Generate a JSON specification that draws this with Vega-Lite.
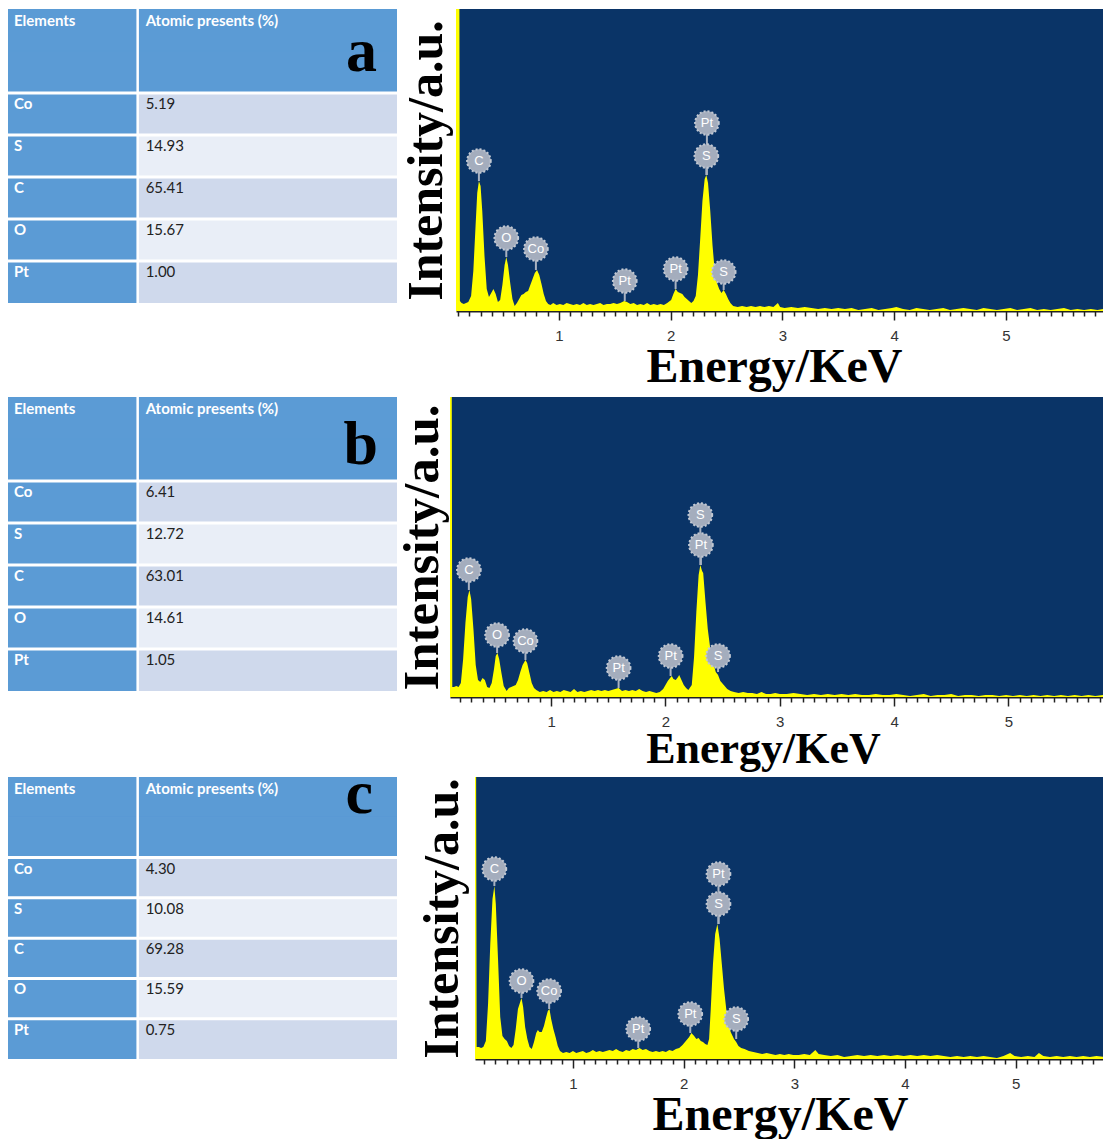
{
"$schema": "https://vega.github.io/schema/vega-lite/v6.json",
"background": "white",
"padding": {"left": 8, "top": 9, "right": 0, "bottom": 0},
"config": {"view": {"stroke": null}},
"datasets": {
"atomic": [
{"panel":"a","element":"Co","value":5.19},{"panel":"a","element":"S","value":14.93},{"panel":"a","element":"C","value":65.41},{"panel":"a","element":"O","value":15.67},{"panel":"a","element":"Pt","value":1.00},
{"panel":"b","element":"Co","value":6.41},{"panel":"b","element":"S","value":12.72},{"panel":"b","element":"C","value":63.01},{"panel":"b","element":"O","value":14.61},{"panel":"b","element":"Pt","value":1.05},
{"panel":"c","element":"Co","value":4.30},{"panel":"c","element":"S","value":10.08},{"panel":"c","element":"C","value":69.28},{"panel":"c","element":"O","value":15.59},{"panel":"c","element":"Pt","value":0.75}
],
"peaks": [
{"panel":"a","t":"C","e":0.285,"peak":130,"ly":150},{"panel":"a","t":"O","e":0.53,"peak":54,"ly":73},{"panel":"a","t":"Co","e":0.795,"peak":41,"ly":62},{"panel":"a","t":"Pt","e":1.59,"peak":10,"ly":30},{"panel":"a","t":"Pt","e":2.045,"peak":22,"ly":42},{"panel":"a","t":"S","e":2.32,"peak":136,"ly":155},{"panel":"a","t":"Pt","e":2.325,"peak":136,"ly":188},{"panel":"a","t":"S","e":2.475,"peak":21,"ly":39},
{"panel":"b","t":"C","e":0.28,"peak":107,"ly":127},{"panel":"b","t":"O","e":0.527,"peak":44,"ly":62},{"panel":"b","t":"Co","e":0.775,"peak":37,"ly":56},{"panel":"b","t":"Pt","e":1.59,"peak":9,"ly":29},{"panel":"b","t":"Pt","e":2.045,"peak":21,"ly":41},{"panel":"b","t":"Pt","e":2.31,"peak":132,"ly":152},{"panel":"b","t":"S","e":2.305,"peak":132,"ly":182},{"panel":"b","t":"S","e":2.46,"peak":25,"ly":41},
{"panel":"c","t":"C","e":0.29,"peak":173,"ly":190},{"panel":"c","t":"O","e":0.535,"peak":61,"ly":78},{"panel":"c","t":"Co","e":0.785,"peak":50,"ly":68},{"panel":"c","t":"Pt","e":1.59,"peak":11,"ly":30},{"panel":"c","t":"Pt","e":2.06,"peak":26,"ly":45},{"panel":"c","t":"S","e":2.315,"peak":135,"ly":155},{"panel":"c","t":"Pt","e":2.315,"peak":135,"ly":185},{"panel":"c","t":"S","e":2.475,"peak":20,"ly":40}
],
"specA": [
{"e":0.08,"i":330},{"e":0.11,"i":330},{"e":0.115,"i":10},{"e":0.13,"i":8},{"e":0.15,"i":7},{"e":0.17,"i":8},{"e":0.19,"i":9},{"e":0.215,"i":15},{"e":0.235,"i":40},{"e":0.255,"i":85},{"e":0.27,"i":118},{"e":0.285,"i":130},{"e":0.30,"i":125},{"e":0.315,"i":100},{"e":0.335,"i":55},{"e":0.355,"i":22},{"e":0.375,"i":14},{"e":0.395,"i":18},{"e":0.415,"i":22},{"e":0.435,"i":17},{"e":0.455,"i":9},{"e":0.475,"i":11},{"e":0.495,"i":26},{"e":0.515,"i":46},{"e":0.53,"i":54},{"e":0.545,"i":46},{"e":0.565,"i":28},{"e":0.585,"i":12},{"e":0.605,"i":5},{"e":0.625,"i":8},{"e":0.645,"i":12},{"e":0.665,"i":16},{"e":0.685,"i":17},{"e":0.705,"i":19},{"e":0.725,"i":20},{"e":0.745,"i":26},{"e":0.765,"i":32},{"e":0.785,"i":38},{"e":0.805,"i":41},{"e":0.825,"i":36},{"e":0.845,"i":27},{"e":0.865,"i":17},{"e":0.885,"i":10},{"e":0.905,"i":7},{"e":0.925,"i":6},{"e":0.95,"i":8},{"e":0.98,"i":6},{"e":1.01,"i":7},{"e":1.04,"i":6},{"e":1.07,"i":8},{"e":1.10,"i":7},{"e":1.13,"i":6},{"e":1.16,"i":7},{"e":1.19,"i":6},{"e":1.22,"i":8},{"e":1.25,"i":6},{"e":1.28,"i":7},{"e":1.31,"i":6},{"e":1.34,"i":7},{"e":1.37,"i":8},{"e":1.40,"i":6},{"e":1.43,"i":7},{"e":1.46,"i":7},{"e":1.49,"i":8},{"e":1.52,"i":7},{"e":1.55,"i":8},{"e":1.585,"i":10},{"e":1.61,"i":9},{"e":1.64,"i":7},{"e":1.67,"i":8},{"e":1.70,"i":6},{"e":1.73,"i":7},{"e":1.76,"i":6},{"e":1.79,"i":8},{"e":1.82,"i":6},{"e":1.85,"i":7},{"e":1.88,"i":6},{"e":1.91,"i":7},{"e":1.94,"i":6},{"e":1.97,"i":8},{"e":2.005,"i":11},{"e":2.025,"i":17},{"e":2.045,"i":22},{"e":2.065,"i":19},{"e":2.085,"i":18},{"e":2.105,"i":17},{"e":2.125,"i":14},{"e":2.145,"i":12},{"e":2.165,"i":10},{"e":2.185,"i":8},{"e":2.205,"i":10},{"e":2.225,"i":15},{"e":2.245,"i":36},{"e":2.265,"i":72},{"e":2.285,"i":110},{"e":2.305,"i":132},{"e":2.32,"i":136},{"e":2.335,"i":128},{"e":2.355,"i":100},{"e":2.375,"i":66},{"e":2.395,"i":40},{"e":2.415,"i":28},{"e":2.435,"i":22},{"e":2.455,"i":18},{"e":2.475,"i":21},{"e":2.495,"i":17},{"e":2.515,"i":12},{"e":2.535,"i":8},{"e":2.56,"i":5},{"e":2.60,"i":4},{"e":2.64,"i":5},{"e":2.68,"i":4},{"e":2.72,"i":5},{"e":2.76,"i":4},{"e":2.80,"i":5},{"e":2.84,"i":4},{"e":2.88,"i":5},{"e":2.92,"i":4},{"e":2.96,"i":8},{"e":2.98,"i":4},{"e":3.02,"i":3},{"e":3.08,"i":4},{"e":3.14,"i":3},{"e":3.20,"i":4},{"e":3.26,"i":3},{"e":3.32,"i":2},{"e":3.38,"i":3},{"e":3.44,"i":2},{"e":3.50,"i":3},{"e":3.56,"i":2},{"e":3.62,"i":3},{"e":3.68,"i":1},{"e":3.74,"i":2},{"e":3.80,"i":3},{"e":3.86,"i":1},{"e":3.92,"i":2},{"e":3.98,"i":3},{"e":4.02,"i":4},{"e":4.08,"i":2},{"e":4.14,"i":1},{"e":4.20,"i":3},{"e":4.26,"i":2},{"e":4.32,"i":1},{"e":4.38,"i":2},{"e":4.44,"i":3},{"e":4.50,"i":1},{"e":4.56,"i":2},{"e":4.62,"i":3},{"e":4.68,"i":2},{"e":4.74,"i":1},{"e":4.80,"i":3},{"e":4.86,"i":2},{"e":4.92,"i":1},{"e":4.98,"i":2},{"e":5.04,"i":3},{"e":5.10,"i":1},{"e":5.16,"i":2},{"e":5.22,"i":3},{"e":5.28,"i":1},{"e":5.34,"i":2},{"e":5.40,"i":1},{"e":5.46,"i":2},{"e":5.52,"i":3},{"e":5.58,"i":1},{"e":5.64,"i":2},{"e":5.70,"i":1},{"e":5.76,"i":2},{"e":5.82,"i":1},{"e":5.87,"i":2}
],
"specB": [
{"e":0.115,"i":330},{"e":0.13,"i":330},{"e":0.135,"i":10},{"e":0.15,"i":10},{"e":0.17,"i":11},{"e":0.19,"i":10},{"e":0.21,"i":14},{"e":0.23,"i":38},{"e":0.25,"i":74},{"e":0.27,"i":100},{"e":0.285,"i":107},{"e":0.30,"i":98},{"e":0.32,"i":68},{"e":0.34,"i":32},{"e":0.36,"i":17},{"e":0.38,"i":15},{"e":0.40,"i":19},{"e":0.42,"i":17},{"e":0.44,"i":10},{"e":0.46,"i":9},{"e":0.48,"i":14},{"e":0.50,"i":28},{"e":0.515,"i":41},{"e":0.53,"i":44},{"e":0.545,"i":38},{"e":0.565,"i":24},{"e":0.585,"i":11},{"e":0.61,"i":6},{"e":0.63,"i":9},{"e":0.65,"i":10},{"e":0.67,"i":11},{"e":0.69,"i":12},{"e":0.71,"i":17},{"e":0.73,"i":25},{"e":0.75,"i":32},{"e":0.775,"i":37},{"e":0.79,"i":34},{"e":0.81,"i":24},{"e":0.83,"i":14},{"e":0.85,"i":9},{"e":0.87,"i":7},{"e":0.90,"i":5},{"e":0.93,"i":6},{"e":0.96,"i":5},{"e":0.99,"i":7},{"e":1.02,"i":5},{"e":1.05,"i":6},{"e":1.08,"i":5},{"e":1.11,"i":7},{"e":1.14,"i":6},{"e":1.17,"i":5},{"e":1.20,"i":8},{"e":1.23,"i":5},{"e":1.26,"i":6},{"e":1.29,"i":5},{"e":1.32,"i":6},{"e":1.35,"i":7},{"e":1.38,"i":6},{"e":1.41,"i":7},{"e":1.44,"i":6},{"e":1.47,"i":7},{"e":1.50,"i":6},{"e":1.53,"i":7},{"e":1.56,"i":8},{"e":1.59,"i":9},{"e":1.62,"i":6},{"e":1.65,"i":7},{"e":1.68,"i":6},{"e":1.71,"i":7},{"e":1.74,"i":6},{"e":1.77,"i":8},{"e":1.80,"i":6},{"e":1.83,"i":5},{"e":1.86,"i":6},{"e":1.89,"i":5},{"e":1.92,"i":4},{"e":1.95,"i":5},{"e":1.98,"i":8},{"e":2.00,"i":12},{"e":2.02,"i":16},{"e":2.04,"i":19},{"e":2.055,"i":21},{"e":2.07,"i":18},{"e":2.09,"i":17},{"e":2.11,"i":20},{"e":2.12,"i":22},{"e":2.14,"i":17},{"e":2.16,"i":12},{"e":2.18,"i":9},{"e":2.20,"i":7},{"e":2.23,"i":12},{"e":2.25,"i":40},{"e":2.27,"i":85},{"e":2.29,"i":122},{"e":2.305,"i":132},{"e":2.32,"i":126},{"e":2.33,"i":124},{"e":2.35,"i":95},{"e":2.37,"i":68},{"e":2.39,"i":50},{"e":2.41,"i":37},{"e":2.44,"i":25},{"e":2.46,"i":22},{"e":2.48,"i":16},{"e":2.51,"i":12},{"e":2.54,"i":8},{"e":2.57,"i":6},{"e":2.60,"i":5},{"e":2.64,"i":4},{"e":2.68,"i":5},{"e":2.72,"i":4},{"e":2.76,"i":4},{"e":2.80,"i":3},{"e":2.84,"i":5},{"e":2.88,"i":3},{"e":2.92,"i":3},{"e":2.96,"i":4},{"e":3.00,"i":3},{"e":3.06,"i":3},{"e":3.12,"i":4},{"e":3.18,"i":3},{"e":3.24,"i":2},{"e":3.30,"i":3},{"e":3.36,"i":2},{"e":3.42,"i":3},{"e":3.48,"i":2},{"e":3.54,"i":3},{"e":3.60,"i":2},{"e":3.66,"i":3},{"e":3.72,"i":2},{"e":3.78,"i":2},{"e":3.84,"i":3},{"e":3.90,"i":2},{"e":3.96,"i":2},{"e":4.02,"i":3},{"e":4.08,"i":2},{"e":4.14,"i":1},{"e":4.20,"i":2},{"e":4.26,"i":3},{"e":4.32,"i":1},{"e":4.38,"i":2},{"e":4.44,"i":2},{"e":4.50,"i":3},{"e":4.56,"i":1},{"e":4.62,"i":2},{"e":4.68,"i":2},{"e":4.74,"i":1},{"e":4.80,"i":2},{"e":4.86,"i":2},{"e":4.92,"i":1},{"e":4.98,"i":2},{"e":5.04,"i":1},{"e":5.10,"i":2},{"e":5.16,"i":1},{"e":5.22,"i":2},{"e":5.28,"i":1},{"e":5.34,"i":2},{"e":5.40,"i":1},{"e":5.46,"i":2},{"e":5.52,"i":1},{"e":5.58,"i":2},{"e":5.64,"i":1},{"e":5.70,"i":2},{"e":5.76,"i":1},{"e":5.83,"i":2}
],
"specC": [
{"e":0.115,"i":300},{"e":0.125,"i":300},{"e":0.13,"i":12},{"e":0.15,"i":12},{"e":0.17,"i":11},{"e":0.19,"i":12},{"e":0.213,"i":18},{"e":0.233,"i":55},{"e":0.253,"i":115},{"e":0.273,"i":160},{"e":0.29,"i":173},{"e":0.303,"i":155},{"e":0.323,"i":100},{"e":0.343,"i":42},{"e":0.363,"i":23},{"e":0.383,"i":20},{"e":0.403,"i":18},{"e":0.423,"i":13},{"e":0.443,"i":11},{"e":0.463,"i":14},{"e":0.483,"i":30},{"e":0.503,"i":50},{"e":0.535,"i":61},{"e":0.55,"i":52},{"e":0.568,"i":32},{"e":0.588,"i":20},{"e":0.608,"i":12},{"e":0.628,"i":10},{"e":0.648,"i":17},{"e":0.668,"i":26},{"e":0.683,"i":29},{"e":0.698,"i":27},{"e":0.718,"i":27},{"e":0.738,"i":33},{"e":0.758,"i":42},{"e":0.773,"i":48},{"e":0.788,"i":50},{"e":0.803,"i":40},{"e":0.823,"i":30},{"e":0.843,"i":22},{"e":0.863,"i":13},{"e":0.883,"i":8},{"e":0.91,"i":6},{"e":0.94,"i":7},{"e":0.97,"i":6},{"e":1.00,"i":8},{"e":1.03,"i":6},{"e":1.06,"i":7},{"e":1.09,"i":8},{"e":1.12,"i":6},{"e":1.15,"i":7},{"e":1.18,"i":9},{"e":1.21,"i":7},{"e":1.24,"i":8},{"e":1.27,"i":7},{"e":1.30,"i":8},{"e":1.33,"i":9},{"e":1.36,"i":8},{"e":1.39,"i":10},{"e":1.42,"i":8},{"e":1.45,"i":7},{"e":1.48,"i":9},{"e":1.51,"i":8},{"e":1.54,"i":10},{"e":1.57,"i":9},{"e":1.60,"i":11},{"e":1.63,"i":9},{"e":1.66,"i":10},{"e":1.69,"i":8},{"e":1.72,"i":7},{"e":1.75,"i":8},{"e":1.78,"i":7},{"e":1.81,"i":8},{"e":1.84,"i":7},{"e":1.87,"i":9},{"e":1.90,"i":8},{"e":1.93,"i":10},{"e":1.96,"i":11},{"e":1.99,"i":14},{"e":2.02,"i":18},{"e":2.05,"i":22},{"e":2.07,"i":26},{"e":2.095,"i":23},{"e":2.115,"i":20},{"e":2.135,"i":21},{"e":2.155,"i":18},{"e":2.175,"i":17},{"e":2.195,"i":15},{"e":2.215,"i":14},{"e":2.23,"i":20},{"e":2.245,"i":50},{"e":2.265,"i":95},{"e":2.285,"i":125},{"e":2.305,"i":135},{"e":2.325,"i":120},{"e":2.345,"i":95},{"e":2.365,"i":70},{"e":2.385,"i":50},{"e":2.405,"i":36},{"e":2.425,"i":27},{"e":2.455,"i":20},{"e":2.475,"i":17},{"e":2.495,"i":13},{"e":2.52,"i":11},{"e":2.55,"i":10},{"e":2.59,"i":8},{"e":2.63,"i":7},{"e":2.67,"i":6},{"e":2.71,"i":5},{"e":2.75,"i":6},{"e":2.79,"i":5},{"e":2.83,"i":4},{"e":2.87,"i":5},{"e":2.91,"i":4},{"e":2.95,"i":5},{"e":2.99,"i":4},{"e":3.04,"i":4},{"e":3.09,"i":5},{"e":3.14,"i":4},{"e":3.19,"i":9},{"e":3.22,"i":5},{"e":3.27,"i":4},{"e":3.33,"i":3},{"e":3.39,"i":4},{"e":3.45,"i":2},{"e":3.51,"i":3},{"e":3.57,"i":4},{"e":3.63,"i":3},{"e":3.69,"i":4},{"e":3.75,"i":3},{"e":3.81,"i":4},{"e":3.87,"i":3},{"e":3.93,"i":4},{"e":3.99,"i":3},{"e":4.05,"i":4},{"e":4.11,"i":3},{"e":4.17,"i":4},{"e":4.23,"i":3},{"e":4.29,"i":4},{"e":4.35,"i":3},{"e":4.41,"i":2},{"e":4.47,"i":3},{"e":4.53,"i":2},{"e":4.59,"i":3},{"e":4.65,"i":2},{"e":4.71,"i":3},{"e":4.77,"i":2},{"e":4.83,"i":1},{"e":4.89,"i":3},{"e":4.95,"i":6},{"e":4.99,"i":3},{"e":5.05,"i":2},{"e":5.11,"i":3},{"e":5.17,"i":2},{"e":5.21,"i":6},{"e":5.25,"i":3},{"e":5.31,"i":2},{"e":5.37,"i":3},{"e":5.43,"i":2},{"e":5.49,"i":3},{"e":5.55,"i":2},{"e":5.61,"i":3},{"e":5.67,"i":2},{"e":5.73,"i":3},{"e":5.80,"i":2}
]
},
"spacing": 6,
"vconcat": [
{"spacing": 3, "hconcat": [
{"width": 389, "height": 294, "data": {"name": "atomic"}, "transform": [{"filter": "datum.panel === 'a'"}],
"layer": [
{"transform": [{"filter": "datum.element === 'Co'"}], "mark": {"type": "rect", "color": "#5b9bd5", "stroke": "#5b9bd5", "strokeWidth": 1, "clip": true}, "encoding": {"x": {"value": 0}, "x2": {"value": "width"}, "y": {"datum": "h1", "type": "nominal", "scale": {"type": "band", "domain": ["h1","h2","Co","S","C","O","Pt"], "paddingInner": 0, "paddingOuter": 0}, "axis": null}}},
{"transform": [{"filter": "datum.element === 'Co'"}], "mark": {"type": "rect", "color": "#5b9bd5", "stroke": "#5b9bd5", "strokeWidth": 1, "clip": true}, "encoding": {"x": {"value": 0}, "x2": {"value": "width"}, "y": {"datum": "h2", "type": "nominal"}}},
{"mark": {"type": "rect"}, "encoding": {"x": {"value": 0}, "x2": {"value": "width"}, "y": {"field": "element", "type": "nominal"}, "color": {"field": "element", "type": "nominal", "scale": {"domain": ["Co","S","C","O","Pt"], "range": ["#cfd9ec","#e9eef7","#cfd9ec","#e9eef7","#cfd9ec"]}, "legend": null}}},
{"mark": {"type": "rect", "color": "#5b9bd5"}, "encoding": {"y": {"field": "element", "type": "nominal"}, "x": {"datum": "c1", "type": "nominal", "scale": {"type": "band", "domain": ["c1","c2","c3"], "paddingInner": 0, "paddingOuter": 0}, "axis": null}}},
{"mark": {"type": "rule", "color": "white", "strokeWidth": 3, "clip": true}, "encoding": {"y": {"field": "element", "type": "nominal", "bandPosition": 0}}},
{"transform": [{"filter": "datum.element === 'Co'"}], "mark": {"type": "rule", "color": "white", "strokeWidth": 2.5, "clip": true}, "encoding": {"x": {"datum": "c2", "type": "nominal", "bandPosition": 0}}},
{"transform": [{"filter": "datum.element === 'Co'"}], "mark": {"type": "text", "text": "Elements", "font": "Lato", "fontWeight": "bold", "fontSize": 15, "color": "white", "align": "left", "baseline": "alphabetic", "dx": 6, "dy": 17}, "encoding": {"x": {"datum": "c1", "type": "nominal", "bandPosition": 0}, "y": {"datum": "h1", "type": "nominal", "bandPosition": 0}}},
{"transform": [{"filter": "datum.element === 'Co'"}], "mark": {"type": "text", "text": "Atomic presents (%)", "font": "Lato", "fontWeight": "bold", "fontSize": 15, "color": "white", "align": "left", "baseline": "alphabetic", "dx": 8, "dy": 17}, "encoding": {"x": {"datum": "c2", "type": "nominal", "bandPosition": 0}, "y": {"datum": "h1", "type": "nominal", "bandPosition": 0}}},
{"transform": [{"filter": "datum.element === 'Co'"}], "mark": {"type": "text", "text": "a", "font": "Liberation Serif", "fontWeight": "bold", "fontSize": 62, "color": "black", "align": "right", "baseline": "alphabetic", "dx": -20, "dy": -22, "clip": true}, "encoding": {"x": {"datum": "c3", "type": "nominal", "bandPosition": 1}, "y": {"datum": "h2", "type": "nominal", "bandPosition": 1}}},
{"mark": {"type": "text", "font": "Lato", "fontWeight": "bold", "fontSize": 15, "color": "white", "align": "left", "baseline": "alphabetic", "dx": 6, "dy": 16}, "encoding": {"text": {"field": "element"}, "x": {"datum": "c1", "type": "nominal", "bandPosition": 0}, "y": {"field": "element", "type": "nominal", "bandPosition": 0}}},
{"mark": {"type": "text", "font": "Lato", "fontSize": 15, "color": "#222", "align": "left", "baseline": "alphabetic", "dx": 8, "dy": 16}, "encoding": {"text": {"field": "value", "format": ".2f"}, "x": {"datum": "c2", "type": "nominal", "bandPosition": 0}, "y": {"field": "element", "type": "nominal", "bandPosition": 0}}}
]},
{"width": 648, "height": 302, "view": {"fill": "#0a3467", "stroke": null},
"layer": [
{"data": {"name": "specA"}, "mark": {"type": "area", "color": "#ffff00", "clip": true, "interpolate": "linear"},
"encoding": {"x": {"field": "e", "type": "quantitative", "scale": {"domain": [0.08, 5.878], "nice": false, "zero": false},
"axis": {"title": "Energy/KeV", "titleX": 318, "tickCount": 100, "values": [0.1,0.2,0.3,0.4,0.5,0.6,0.7,0.8,0.9,1,1.1,1.2,1.3,1.4,1.5,1.6,1.7,1.8,1.9,2,2.1,2.2,2.3,2.4,2.5,2.6,2.7,2.8,2.9,3,3.1,3.2,3.3,3.4,3.5,3.6,3.7,3.8,3.9,4,4.1,4.2,4.3,4.4,4.5,4.6,4.7,4.8,4.9,5,5.1,5.2,5.3,5.4,5.5,5.6,5.7,5.8], "grid": false, "labelExpr": "datum.value % 1 === 0 ? format(datum.value, 'd') : ''", "labelOverlap": false, "labelFlush": false, "labelFont": "Liberation Sans", "labelFontSize": 15, "labelColor": "#333", "labelPadding": 8, "tickSize": {"condition": {"test": "datum.value % 1 === 0", "value": 9}, "value": 5}, "tickColor": "#222", "tickWidth": 1.5, "domainColor": "#222", "domainWidth": 2, "titleFont": "Liberation Serif", "titleFontSize": 48, "titleFontWeight": "bold", "titleColor": "black", "titlePadding": 0}},
"y": {"field": "i", "type": "quantitative", "scale": {"domain": [0, 302], "nice": false}, "axis": {"title": "Intensity/a.u.", "labels": false, "ticks": false, "domain": false, "grid": false, "titleFont": "Liberation Serif", "titleFontSize": 50, "titleFontWeight": "bold", "titleColor": "black", "titlePadding": 5}}}},
{"data": {"name": "peaks"}, "transform": [{"filter": "datum.panel === 'a'"}], "mark": {"type": "rule", "color": "#a9b2c1", "strokeWidth": 2}, "encoding": {"x": {"field": "e", "type": "quantitative"}, "y": {"field": "peak", "type": "quantitative"}, "y2": {"field": "ly"}}},
{"data": {"name": "peaks"}, "transform": [{"filter": "datum.panel === 'a'"}], "mark": {"type": "point", "shape": "circle", "filled": true, "size": 560, "color": "#a4adbd", "opacity": 1, "stroke": "#c3c9d3", "strokeWidth": 2, "strokeDash": [2, 2]}, "encoding": {"x": {"field": "e", "type": "quantitative"}, "y": {"field": "ly", "type": "quantitative"}}},
{"data": {"name": "peaks"}, "transform": [{"filter": "datum.panel === 'a'"}], "mark": {"type": "text", "color": "white", "font": "Liberation Sans", "fontSize": 13, "baseline": "middle", "align": "center"}, "encoding": {"x": {"field": "e", "type": "quantitative"}, "y": {"field": "ly", "type": "quantitative"}, "text": {"field": "t"}}}
]}
]},
{"spacing": -2, "hconcat": [
{"width": 389, "height": 294, "data": {"name": "atomic"}, "transform": [{"filter": "datum.panel === 'b'"}],
"layer": [
{"transform": [{"filter": "datum.element === 'Co'"}], "mark": {"type": "rect", "color": "#5b9bd5", "stroke": "#5b9bd5", "strokeWidth": 1, "clip": true}, "encoding": {"x": {"value": 0}, "x2": {"value": "width"}, "y": {"datum": "h1", "type": "nominal", "scale": {"type": "band", "domain": ["h1","h2","Co","S","C","O","Pt"], "paddingInner": 0, "paddingOuter": 0}, "axis": null}}},
{"transform": [{"filter": "datum.element === 'Co'"}], "mark": {"type": "rect", "color": "#5b9bd5", "stroke": "#5b9bd5", "strokeWidth": 1, "clip": true}, "encoding": {"x": {"value": 0}, "x2": {"value": "width"}, "y": {"datum": "h2", "type": "nominal"}}},
{"mark": {"type": "rect"}, "encoding": {"x": {"value": 0}, "x2": {"value": "width"}, "y": {"field": "element", "type": "nominal"}, "color": {"field": "element", "type": "nominal", "scale": {"domain": ["Co","S","C","O","Pt"], "range": ["#cfd9ec","#e9eef7","#cfd9ec","#e9eef7","#cfd9ec"]}, "legend": null}}},
{"mark": {"type": "rect", "color": "#5b9bd5"}, "encoding": {"y": {"field": "element", "type": "nominal"}, "x": {"datum": "c1", "type": "nominal", "scale": {"type": "band", "domain": ["c1","c2","c3"], "paddingInner": 0, "paddingOuter": 0}, "axis": null}}},
{"mark": {"type": "rule", "color": "white", "strokeWidth": 3, "clip": true}, "encoding": {"y": {"field": "element", "type": "nominal", "bandPosition": 0}}},
{"transform": [{"filter": "datum.element === 'Co'"}], "mark": {"type": "rule", "color": "white", "strokeWidth": 2.5, "clip": true}, "encoding": {"x": {"datum": "c2", "type": "nominal", "bandPosition": 0}}},
{"transform": [{"filter": "datum.element === 'Co'"}], "mark": {"type": "text", "text": "Elements", "font": "Lato", "fontWeight": "bold", "fontSize": 15, "color": "white", "align": "left", "baseline": "alphabetic", "dx": 6, "dy": 17}, "encoding": {"x": {"datum": "c1", "type": "nominal", "bandPosition": 0}, "y": {"datum": "h1", "type": "nominal", "bandPosition": 0}}},
{"transform": [{"filter": "datum.element === 'Co'"}], "mark": {"type": "text", "text": "Atomic presents (%)", "font": "Lato", "fontWeight": "bold", "fontSize": 15, "color": "white", "align": "left", "baseline": "alphabetic", "dx": 8, "dy": 17}, "encoding": {"x": {"datum": "c2", "type": "nominal", "bandPosition": 0}, "y": {"datum": "h1", "type": "nominal", "bandPosition": 0}}},
{"transform": [{"filter": "datum.element === 'Co'"}], "mark": {"type": "text", "text": "b", "font": "Liberation Serif", "fontWeight": "bold", "fontSize": 62, "color": "black", "align": "right", "baseline": "alphabetic", "dx": -19, "dy": -17, "clip": true}, "encoding": {"x": {"datum": "c3", "type": "nominal", "bandPosition": 1}, "y": {"datum": "h2", "type": "nominal", "bandPosition": 1}}},
{"mark": {"type": "text", "font": "Lato", "fontWeight": "bold", "fontSize": 15, "color": "white", "align": "left", "baseline": "alphabetic", "dx": 6, "dy": 16}, "encoding": {"text": {"field": "element"}, "x": {"datum": "c1", "type": "nominal", "bandPosition": 0}, "y": {"field": "element", "type": "nominal", "bandPosition": 0}}},
{"mark": {"type": "text", "font": "Lato", "fontSize": 15, "color": "#222", "align": "left", "baseline": "alphabetic", "dx": 8, "dy": 16}, "encoding": {"text": {"field": "value", "format": ".2f"}, "x": {"datum": "c2", "type": "nominal", "bandPosition": 0}, "y": {"field": "element", "type": "nominal", "bandPosition": 0}}}
]},
{"width": 653, "height": 300, "view": {"fill": "#0a3467", "stroke": null},
"layer": [
{"data": {"name": "specB"}, "mark": {"type": "area", "color": "#ffff00", "clip": true, "interpolate": "linear"},
"encoding": {"x": {"field": "e", "type": "quantitative", "scale": {"domain": [0.115, 5.8275], "nice": false, "zero": false},
"axis": {"title": "Energy/KeV", "titleX": 313, "tickCount": 100, "values": [0.2,0.3,0.4,0.5,0.6,0.7,0.8,0.9,1,1.1,1.2,1.3,1.4,1.5,1.6,1.7,1.8,1.9,2,2.1,2.2,2.3,2.4,2.5,2.6,2.7,2.8,2.9,3,3.1,3.2,3.3,3.4,3.5,3.6,3.7,3.8,3.9,4,4.1,4.2,4.3,4.4,4.5,4.6,4.7,4.8,4.9,5,5.1,5.2,5.3,5.4,5.5,5.6,5.7,5.8], "grid": false, "labelExpr": "datum.value % 1 === 0 ? format(datum.value, 'd') : ''", "labelOverlap": false, "labelFlush": false, "labelFont": "Liberation Sans", "labelFontSize": 15, "labelColor": "#333", "labelPadding": 8, "tickSize": {"condition": {"test": "datum.value % 1 === 0", "value": 9}, "value": 5}, "tickColor": "#222", "tickWidth": 1.5, "domainColor": "#222", "domainWidth": 2, "titleFont": "Liberation Serif", "titleFontSize": 44, "titleFontWeight": "bold", "titleColor": "black", "titlePadding": -2}},
"y": {"field": "i", "type": "quantitative", "scale": {"domain": [0, 300], "nice": false}, "axis": {"title": "Intensity/a.u.", "labels": false, "ticks": false, "domain": false, "grid": false, "titleFont": "Liberation Serif", "titleFontSize": 51, "titleFontWeight": "bold", "titleColor": "black", "titlePadding": 2}}}},
{"data": {"name": "peaks"}, "transform": [{"filter": "datum.panel === 'b'"}], "mark": {"type": "rule", "color": "#a9b2c1", "strokeWidth": 2}, "encoding": {"x": {"field": "e", "type": "quantitative"}, "y": {"field": "peak", "type": "quantitative"}, "y2": {"field": "ly"}}},
{"data": {"name": "peaks"}, "transform": [{"filter": "datum.panel === 'b'"}], "mark": {"type": "point", "shape": "circle", "filled": true, "size": 560, "color": "#a4adbd", "opacity": 1, "stroke": "#c3c9d3", "strokeWidth": 2, "strokeDash": [2, 2]}, "encoding": {"x": {"field": "e", "type": "quantitative"}, "y": {"field": "ly", "type": "quantitative"}}},
{"data": {"name": "peaks"}, "transform": [{"filter": "datum.panel === 'b'"}], "mark": {"type": "text", "color": "white", "font": "Liberation Sans", "fontSize": 13, "baseline": "middle", "align": "center"}, "encoding": {"x": {"field": "e", "type": "quantitative"}, "y": {"field": "ly", "type": "quantitative"}, "text": {"field": "t"}}}
]}
]},
{"spacing": 19, "hconcat": [
{"width": 389, "height": 282, "data": {"name": "atomic"}, "transform": [{"filter": "datum.panel === 'c'"}],
"layer": [
{"transform": [{"filter": "datum.element === 'Co'"}], "mark": {"type": "rect", "color": "#5b9bd5", "stroke": "#5b9bd5", "strokeWidth": 1, "clip": true}, "encoding": {"x": {"value": 0}, "x2": {"value": "width"}, "y": {"datum": "h1", "type": "nominal", "scale": {"type": "band", "domain": ["h1","h2","Co","S","C","O","Pt"], "paddingInner": 0, "paddingOuter": 0}, "axis": null}}},
{"transform": [{"filter": "datum.element === 'Co'"}], "mark": {"type": "rect", "color": "#5b9bd5", "stroke": "#5b9bd5", "strokeWidth": 1, "clip": true}, "encoding": {"x": {"value": 0}, "x2": {"value": "width"}, "y": {"datum": "h2", "type": "nominal"}}},
{"mark": {"type": "rect"}, "encoding": {"x": {"value": 0}, "x2": {"value": "width"}, "y": {"field": "element", "type": "nominal"}, "color": {"field": "element", "type": "nominal", "scale": {"domain": ["Co","S","C","O","Pt"], "range": ["#cfd9ec","#e9eef7","#cfd9ec","#e9eef7","#cfd9ec"]}, "legend": null}}},
{"mark": {"type": "rect", "color": "#5b9bd5"}, "encoding": {"y": {"field": "element", "type": "nominal"}, "x": {"datum": "c1", "type": "nominal", "scale": {"type": "band", "domain": ["c1","c2","c3"], "paddingInner": 0, "paddingOuter": 0}, "axis": null}}},
{"mark": {"type": "rule", "color": "white", "strokeWidth": 3, "clip": true}, "encoding": {"y": {"field": "element", "type": "nominal", "bandPosition": 0}}},
{"transform": [{"filter": "datum.element === 'Co'"}], "mark": {"type": "rule", "color": "white", "strokeWidth": 2.5, "clip": true}, "encoding": {"x": {"datum": "c2", "type": "nominal", "bandPosition": 0}}},
{"transform": [{"filter": "datum.element === 'Co'"}], "mark": {"type": "text", "text": "Elements", "font": "Lato", "fontWeight": "bold", "fontSize": 15, "color": "white", "align": "left", "baseline": "alphabetic", "dx": 6, "dy": 17}, "encoding": {"x": {"datum": "c1", "type": "nominal", "bandPosition": 0}, "y": {"datum": "h1", "type": "nominal", "bandPosition": 0}}},
{"transform": [{"filter": "datum.element === 'Co'"}], "mark": {"type": "text", "text": "Atomic presents (%)", "font": "Lato", "fontWeight": "bold", "fontSize": 15, "color": "white", "align": "left", "baseline": "alphabetic", "dx": 8, "dy": 17}, "encoding": {"x": {"datum": "c2", "type": "nominal", "bandPosition": 0}, "y": {"datum": "h1", "type": "nominal", "bandPosition": 0}}},
{"transform": [{"filter": "datum.element === 'Co'"}], "mark": {"type": "text", "text": "c", "font": "Liberation Serif", "fontWeight": "bold", "fontSize": 62, "color": "black", "align": "right", "baseline": "alphabetic", "dx": -24, "dy": -45, "clip": true}, "encoding": {"x": {"datum": "c3", "type": "nominal", "bandPosition": 1}, "y": {"datum": "h2", "type": "nominal", "bandPosition": 1}}},
{"mark": {"type": "text", "font": "Lato", "fontWeight": "bold", "fontSize": 15, "color": "white", "align": "left", "baseline": "alphabetic", "dx": 6, "dy": 16}, "encoding": {"text": {"field": "element"}, "x": {"datum": "c1", "type": "nominal", "bandPosition": 0}, "y": {"field": "element", "type": "nominal", "bandPosition": 0}}},
{"mark": {"type": "text", "font": "Lato", "fontSize": 15, "color": "#222", "align": "left", "baseline": "alphabetic", "dx": 8, "dy": 16}, "encoding": {"text": {"field": "value", "format": ".2f"}, "x": {"datum": "c2", "type": "nominal", "bandPosition": 0}, "y": {"field": "element", "type": "nominal", "bandPosition": 0}}}
]},
{"width": 629, "height": 282, "view": {"fill": "#0a3467", "stroke": null},
"layer": [
{"data": {"name": "specC"}, "mark": {"type": "area", "color": "#ffff00", "clip": true, "interpolate": "linear"},
"encoding": {"x": {"field": "e", "type": "quantitative", "scale": {"domain": [0.115, 5.798], "nice": false, "zero": false},
"axis": {"title": "Energy/KeV", "titleX": 305, "tickCount": 100, "values": [0.2,0.3,0.4,0.5,0.6,0.7,0.8,0.9,1,1.1,1.2,1.3,1.4,1.5,1.6,1.7,1.8,1.9,2,2.1,2.2,2.3,2.4,2.5,2.6,2.7,2.8,2.9,3,3.1,3.2,3.3,3.4,3.5,3.6,3.7,3.8,3.9,4,4.1,4.2,4.3,4.4,4.5,4.6,4.7,4.8,4.9,5,5.1,5.2,5.3,5.4,5.5,5.6,5.7], "grid": false, "labelExpr": "datum.value % 1 === 0 ? format(datum.value, 'd') : ''", "labelOverlap": false, "labelFlush": false, "labelFont": "Liberation Sans", "labelFontSize": 15, "labelColor": "#333", "labelPadding": 8, "tickSize": {"condition": {"test": "datum.value % 1 === 0", "value": 9}, "value": 5}, "tickColor": "#222", "tickWidth": 1.5, "domainColor": "#222", "domainWidth": 2, "titleFont": "Liberation Serif", "titleFontSize": 48, "titleFontWeight": "bold", "titleColor": "black", "titlePadding": 0}},
"y": {"field": "i", "type": "quantitative", "scale": {"domain": [0, 282], "nice": false}, "axis": {"title": "Intensity/a.u.", "labels": false, "ticks": false, "domain": false, "grid": false, "titleFont": "Liberation Serif", "titleFontSize": 50, "titleFontWeight": "bold", "titleColor": "black", "titlePadding": 8}}}},
{"data": {"name": "peaks"}, "transform": [{"filter": "datum.panel === 'c'"}], "mark": {"type": "rule", "color": "#a9b2c1", "strokeWidth": 2}, "encoding": {"x": {"field": "e", "type": "quantitative"}, "y": {"field": "peak", "type": "quantitative"}, "y2": {"field": "ly"}}},
{"data": {"name": "peaks"}, "transform": [{"filter": "datum.panel === 'c'"}], "mark": {"type": "point", "shape": "circle", "filled": true, "size": 560, "color": "#a4adbd", "opacity": 1, "stroke": "#c3c9d3", "strokeWidth": 2, "strokeDash": [2, 2]}, "encoding": {"x": {"field": "e", "type": "quantitative"}, "y": {"field": "ly", "type": "quantitative"}}},
{"data": {"name": "peaks"}, "transform": [{"filter": "datum.panel === 'c'"}], "mark": {"type": "text", "color": "white", "font": "Liberation Sans", "fontSize": 13, "baseline": "middle", "align": "center"}, "encoding": {"x": {"field": "e", "type": "quantitative"}, "y": {"field": "ly", "type": "quantitative"}, "text": {"field": "t"}}}
]}
]}
]
}
